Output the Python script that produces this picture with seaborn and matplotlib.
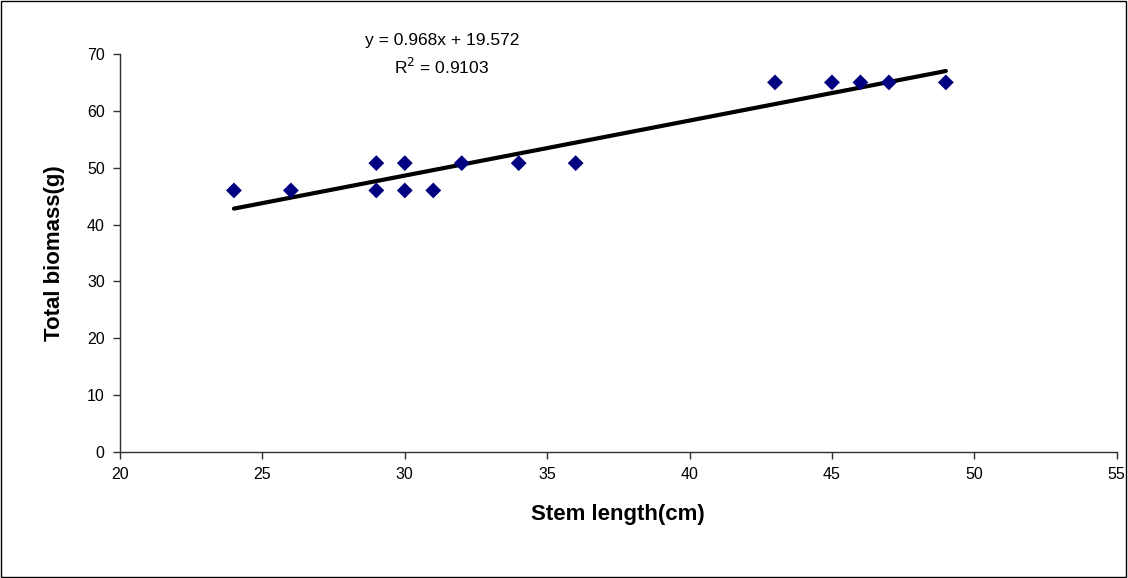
import matplotlib
matplotlib.use("Agg")
import matplotlib.pyplot as plt
import seaborn as sns
import pandas as pd
import numpy as np
from matplotlib.patches import Rectangle

stem_length = [24, 26, 29, 29, 30, 30, 31, 32, 34, 36, 43, 45, 46, 47, 49]
total_biomass = [46, 46, 50.8, 46, 50.8, 46, 46, 50.8, 50.8, 50.8, 65, 65, 65, 65, 65]
slope = 0.968
intercept = 19.572
r_squared = 0.9103
x_ticks = [20, 25, 30, 35, 40, 45, 50, 55]
y_ticks = [0, 10, 20, 30, 40, 50, 60, 70]

sns.set_theme(style="ticks")
plt.rcParams['font.family'] = ['Liberation Sans', 'DejaVu Sans']
plt.rcParams['text.color'] = 'black'
plt.rcParams['axes.labelcolor'] = 'black'

df = pd.DataFrame({"x": stem_length, "y": total_biomass})
fit_x = [min(stem_length), max(stem_length)]
fit = pd.DataFrame({"x": fit_x, "y": [slope * v + intercept for v in fit_x]})

fig = plt.figure(figsize=(11.28, 5.78), dpi=100)
ax = fig.add_axes([0.1064, 0.218, 0.8836, 0.6886])

sns.scatterplot(data=df, x="x", y="y", marker="D", s=65, color="#000080",
                edgecolor="none", ax=ax, zorder=3)
sns.lineplot(data=fit, x="x", y="y", color="black", linewidth=3, ax=ax, zorder=2)

ax.set_xlim(20, 55)
ax.set_ylim(0, 70)
ax.set_xticks(x_ticks)
ax.set_yticks(y_ticks)
ax.tick_params(axis="both", direction="out", length=5, width=1, color="#303030",
               labelsize=11.5, labelcolor="black", pad=6)
for s in ["top", "right"]:
    ax.spines[s].set_visible(False)
for s in ["left", "bottom"]:
    ax.spines[s].set_color("#303030")
    ax.spines[s].set_linewidth(1)

ax.set_xlabel("Stem length(cm)", fontsize=16, fontweight="bold", labelpad=16)
ax.set_ylabel("Total biomass(g)", fontsize=16, fontweight="bold", labelpad=16)

ax.text(31.3, 72.3, f"y = {slope}x + {intercept}", ha="center", va="center",
        fontsize=12.5, clip_on=False)
ax.text(31.3, 67.7, f"R$^2$ = {r_squared}", ha="center", va="center",
        fontsize=12.5, clip_on=False)

fig.patches.append(Rectangle((0.0005, 0.001), 0.998, 0.997, transform=fig.transFigure,
                             fill=False, edgecolor="black", linewidth=1))

fig.savefig("out.png", dpi=100)
